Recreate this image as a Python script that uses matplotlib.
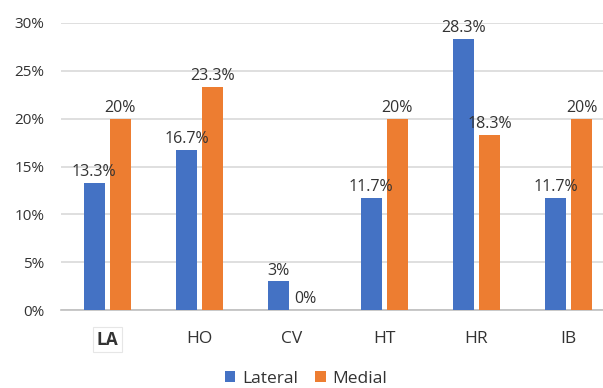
import matplotlib
matplotlib.use("Agg")
import matplotlib.pyplot as plt
import numpy as np

categories = ["LA", "HO", "CV", "HT", "HR", "IB"]
lateral = [13.3, 16.7, 3, 11.7, 28.3, 11.7]
medial = [20, 23.3, 0, 20, 18.3, 20]
series_names = ["Lateral", "Medial"]
y_ticks = [0, 5, 10, 15, 20, 25, 30]

BLUE = "#4472C4"
ORANGE = "#ED7D31"
GRID = "#D9D9D9"
TEXT = "#333333"

plt.rcParams["font.family"] = ["Open Sans", "DejaVu Sans"]

fig = plt.figure(figsize=(6.03, 3.88), dpi=100)
ax = fig.add_axes([61 / 603, 1 - 310 / 388, (615 - 61) / 603, (310 - 23) / 388])

x = np.arange(len(categories))
w = 0.227
off = 0.142
b1 = ax.bar(x - off, lateral, w, color=BLUE, label=series_names[0], zorder=3)
b2 = ax.bar(x + off, medial, w, color=ORANGE, label=series_names[1], zorder=3)

def fmt(v):
    return f"{v:g}%"

for bars, vals in ((b1, lateral), (b2, medial)):
    for rect, v in zip(bars, vals):
        ax.annotate(fmt(v), (rect.get_x() + rect.get_width() / 2, v),
                    xytext=(0, 2), textcoords="offset points",
                    ha="center", va="bottom", fontsize=11.5, color=TEXT, zorder=4)

ax.set_xlim(-0.5, len(categories) - 0.5)
ax.set_ylim(0, 30)
ax.set_yticks(y_ticks)
ax.set_yticklabels([f"{t}%" for t in y_ticks])
ax.set_xticks(x)
ax.set_xticklabels(categories)
ax.tick_params(axis="y", length=0, labelsize=11, colors=TEXT, pad=12)
ax.tick_params(axis="x", length=0, labelsize=12.5, colors=TEXT, pad=15)

lbl = ax.get_xticklabels()[0]
lbl.set_fontweight("bold")
lbl.set_bbox(dict(facecolor="white", edgecolor="#E6E6E6", linewidth=0.8, pad=2.5))

ax.grid(axis="y", color=GRID, linewidth=1.2, zorder=0)
for s in ["top", "right", "left"]:
    ax.spines[s].set_visible(False)
ax.spines["bottom"].set_color("#BFBFBF")
ax.spines["bottom"].set_linewidth(1.2)

fig.legend(handles=[b1, b2], labels=series_names, loc="center",
           bbox_to_anchor=(306 / 603, 1 - 379 / 388), ncol=2, frameon=False,
           fontsize=12.5, handlelength=0.6, handleheight=0.6, handletextpad=0.4,
           columnspacing=1.0, labelcolor=TEXT)

fig.savefig("out.png", dpi=100)
